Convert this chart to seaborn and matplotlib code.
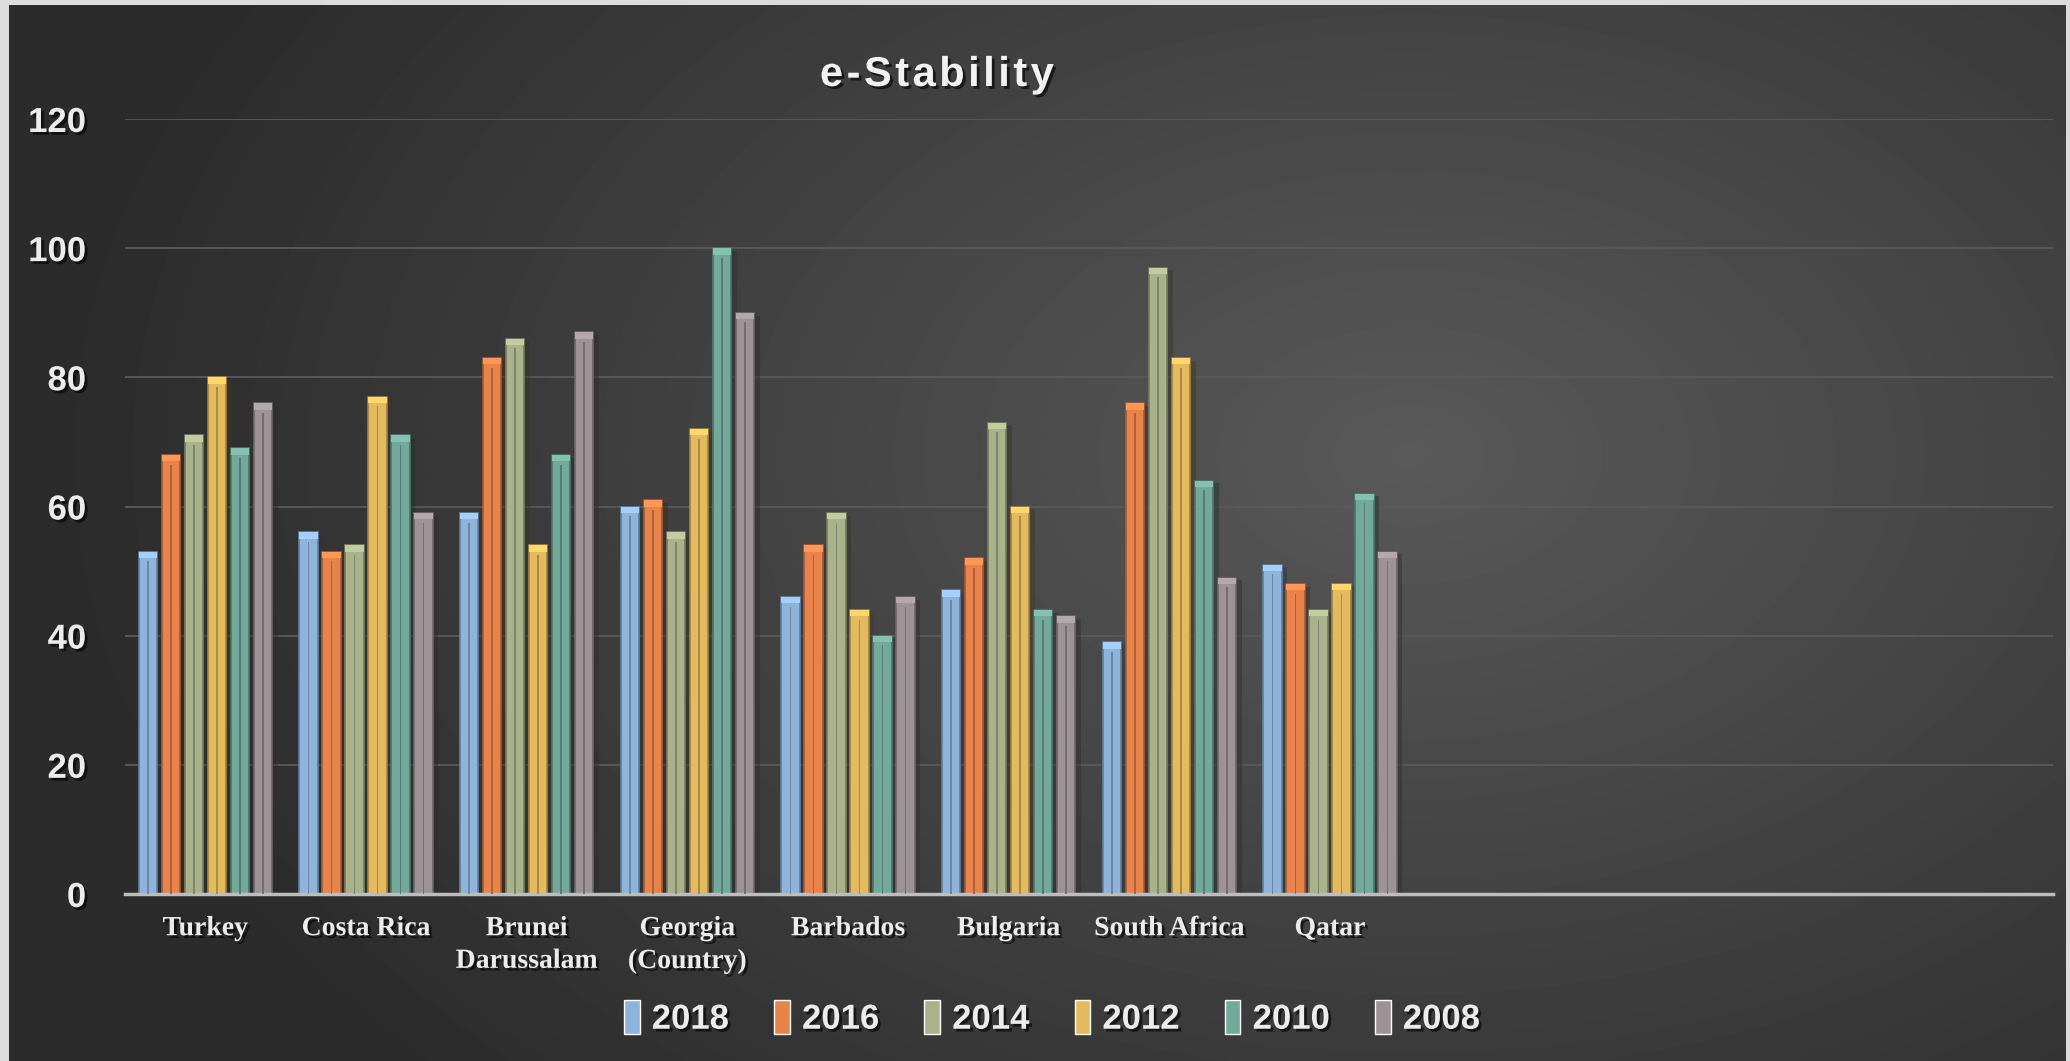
import numpy as np
import pandas as pd
import seaborn as sns
import matplotlib.pyplot as plt
import matplotlib.patheffects as pe
from matplotlib.patches import Rectangle

# %%
countries = ['Turkey', 'Costa Rica', 'Brunei\nDarussalam', 'Georgia\n(Country)',
             'Barbados', 'Bulgaria', 'South Africa', 'Qatar']
years = ['2018', '2016', '2014', '2012', '2010', '2008']

v2018 = [53, 56, 59, 60, 46, 47, 39, 51]
v2016 = [68, 53, 83, 61, 54, 52, 76, 48]
v2014 = [71, 54, 86, 56, 59, 73, 97, 44]
v2012 = [80, 77, 54, 72, 44, 60, 83, 48]
v2010 = [69, 71, 68, 100, 40, 44, 64, 62]
v2008 = [76, 59, 87, 90, 46, 43, 49, 53]

colors = ['#8fb4dc', '#e9834c', '#a9b28a', '#e3bb5e', '#72a99a', '#9d9296']

df = pd.DataFrame({'country': countries, '2018': v2018, '2016': v2016, '2014': v2014,
                   '2012': v2012, '2010': v2010, '2008': v2008})
df = df.melt(id_vars='country', var_name='year', value_name='value')

# %%
sns.set_theme(style='dark')
plt.rcParams['font.family'] = ['Liberation Sans', 'DejaVu Sans']

fig = plt.figure(figsize=(20.7, 10.61), dpi=100)
fig.patch.set_facecolor('#dcdcdc')

# background: dark radial gradient inside a light frame
bg = fig.add_axes([9 / 2070, 0, 2057 / 2070, 1056 / 1061], zorder=-5)
yy, xx = np.mgrid[0:1056, 0:2057]
d = np.sqrt(((xx - 1400) / 1500) ** 2 + ((yy - 450) / 1000) ** 2)
shade = np.clip(0.35 - 0.2 * d, 0.17, 0.35)
bg.imshow(shade, cmap='gray', vmin=0, vmax=1, aspect='auto', interpolation='bilinear')
bg.set_axis_off()

ax = fig.add_axes([125 / 2070, 1 - 894 / 1061, 1928 / 2070, 775 / 1061])
ax.set_facecolor('none')

sns.barplot(data=df, x='country', y='value', hue='year', order=countries,
            hue_order=years, palette=colors, width=0.86, gap=0.2,
            saturation=1, ax=ax)

# bevel look on the bars
for p in list(ax.patches):
    h = p.get_height()
    if h <= 0:
        continue
    x0, w = p.get_x(), p.get_width()
    fc = np.array(p.get_facecolor()[:3])
    p.set_edgecolor(tuple(fc * 0.7))
    p.set_linewidth(1.2)
    p.set_path_effects([pe.SimplePatchShadow(offset=(4, -2), alpha=0.45), pe.Normal()])
    ax.add_patch(Rectangle((x0 + w * 0.45, 0), w * 0.1, h - 1.5,
                           color=tuple(fc * 0.75), lw=0, zorder=3))
    ax.add_patch(Rectangle((x0, h - 1.0), w, 1.0,
                           color=tuple(np.clip(fc * 1.15, 0, 1)), lw=0, zorder=3))

ax.set_xlim(-0.5, 11.5)
ax.set_ylim(0, 120)
ax.set_yticks(range(0, 121, 20))
ax.grid(axis='y', color='#5a5a5a', lw=1.3)
ax.grid(axis='x', visible=False)
for s in ['top', 'right', 'left']:
    ax.spines[s].set_visible(False)
ax.spines['bottom'].set_color('#bdbdbd')
ax.spines['bottom'].set_linewidth(2.5)
ax.set_xlabel('')
ax.set_ylabel('')

shadow = [pe.withSimplePatchShadow(offset=(2, -2), shadow_rgbFace='black', alpha=0.6)]
ax.tick_params(axis='y', length=0, pad=28, labelsize=25, labelcolor='#ececec')
for t in ax.get_yticklabels():
    t.set_fontweight('bold')
    t.set_path_effects(shadow)
ax.tick_params(axis='x', length=0, pad=16, labelsize=20, labelcolor='#ececec')
for t in ax.get_xticklabels():
    t.set_family(['Liberation Serif', 'DejaVu Serif'])
    t.set_fontweight('bold')
    t.set_linespacing(1.4)
    t.set_path_effects(shadow)

title = '\u200a'.join('e-Stability')
fig.text(937 / 2070, 1 - 75 / 1061, title, ha='center', va='center',
         fontsize=30, fontweight='bold', color='#f2f2f2', path_effects=shadow)

sns.move_legend(ax, 'center', bbox_to_anchor=(1052 / 2070, 1 - 1018 / 1061),
                bbox_transform=fig.transFigure, ncol=6, frameon=False, title=None,
                fontsize=25, handlelength=0.45, handleheight=1.1, columnspacing=1.3,
                handletextpad=0.35, labelcolor='#ececec')
for t in ax.get_legend().get_texts():
    t.set_fontweight('bold')
    t.set_path_effects(shadow)

fig.savefig('out.png', dpi=100)
